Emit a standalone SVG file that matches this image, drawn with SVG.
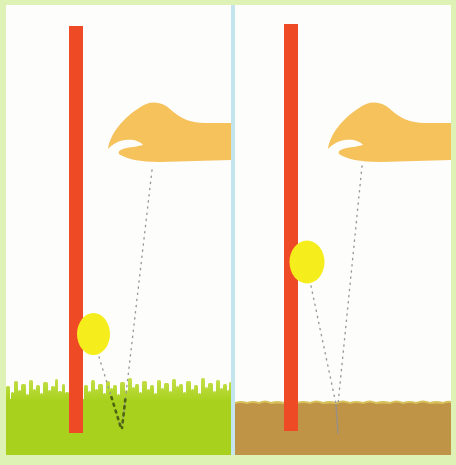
<svg xmlns="http://www.w3.org/2000/svg" width="456" height="465" viewBox="0 0 456 465">
  <style>
    .pole { fill: #ef4a26; }
    .ball { fill: #f5ee1c; }
    .hand { fill: #f6c25c; }
    .blade { fill: url(#blade-fill); }
    .path-dots { fill: none; stroke: #9a9a9a; stroke-width: 1.4; stroke-dasharray: 1.2 5; stroke-linecap: round; }
    .path-dots-dark { fill: none; stroke: #4e6410; stroke-width: 2.6; stroke-dasharray: 2 5; stroke-linecap: round; }
  </style>
  <defs>
    <linearGradient id="blade-fill" gradientUnits="userSpaceOnUse" x1="0" y1="377" x2="0" y2="402">
      <stop offset="0" stop-color="#c6e04c"/>
      <stop offset="1" stop-color="#a7d11c"/>
    </linearGradient>
    <path id="hand-shape" d="M108,149 C110,134 123,118 139,108 C148,101 160,100 170,109 C180,118 190,123 205,123 L232,123 L232,160 L160,162 C140,162 126,159 119,154 C117,150 124,148 134,147 L143,145 C140,141 133,139 125,140 C117,141 112,145 108,149 Z"/>
    <clipPath id="grass-clip"><rect x="6" y="396" width="226" height="59"/></clipPath>
    <clipPath id="left-clip"><rect x="6" y="5" width="225" height="450"/></clipPath>
    <clipPath id="right-clip"><rect x="235" y="5" width="216" height="450"/></clipPath>
  </defs>

  <!-- frame and panels -->
  <rect x="0" y="0" width="456" height="465" fill="#ddf2b4"/>
  <rect id="panel-left" x="6" y="5" width="225" height="450" fill="#fdfdfc"/>
  <rect id="panel-right" x="235" y="5" width="216" height="450" fill="#fdfdfc"/>
  <rect id="divider" x="231" y="5" width="4" height="450" fill="#c4e4ee"/>

  <!-- left scene: grass blades over a solid base -->
  <g id="grass" clip-path="url(#left-clip)">
    <rect x="6" y="399" width="226" height="56" fill="#a7d11c"/>
    <g class="blades">
      <rect class="blade" x="6" y="386" width="4" height="20" rx="1.5"/>
      <rect class="blade" x="11" y="392" width="3" height="14" rx="1.5"/>
      <rect class="blade" x="14" y="381" width="4" height="25" rx="1.5"/>
      <rect class="blade" x="18" y="390" width="3" height="16" rx="1.5"/>
      <rect class="blade" x="21" y="384" width="5" height="22" rx="1.5"/>
      <rect class="blade" x="26" y="394" width="3" height="12" rx="1.5"/>
      <rect class="blade" x="29" y="380" width="4" height="26" rx="1.5"/>
      <rect class="blade" x="33" y="389" width="3" height="17" rx="1.5"/>
      <rect class="blade" x="36" y="385" width="4" height="21" rx="1.5"/>
      <rect class="blade" x="40" y="393" width="3" height="13" rx="1.5"/>
      <rect class="blade" x="43" y="382" width="5" height="24" rx="1.5"/>
      <rect class="blade" x="48" y="390" width="3" height="16" rx="1.5"/>
      <rect class="blade" x="51" y="386" width="4" height="20" rx="1.5"/>
      <rect class="blade" x="55" y="379" width="3" height="27" rx="1.5"/>
      <rect class="blade" x="58" y="391" width="4" height="15" rx="1.5"/>
      <rect class="blade" x="62" y="384" width="3" height="22" rx="1.5"/>
      <rect class="blade" x="65" y="392" width="4" height="14" rx="1.5"/>
      <rect class="blade" x="84" y="385" width="4" height="21" rx="1.5"/>
      <rect class="blade" x="88" y="391" width="3" height="15" rx="1.5"/>
      <rect class="blade" x="91" y="380" width="4" height="26" rx="1.5"/>
      <rect class="blade" x="95" y="389" width="3" height="17" rx="1.5"/>
      <rect class="blade" x="98" y="384" width="5" height="22" rx="1.5"/>
      <rect class="blade" x="103" y="393" width="3" height="13" rx="1.5"/>
      <rect class="blade" x="106" y="381" width="4" height="25" rx="1.5"/>
      <rect class="blade" x="110" y="388" width="3" height="18" rx="1.5"/>
      <rect class="blade" x="113" y="385" width="4" height="21" rx="1.5"/>
      <rect class="blade" x="117" y="394" width="3" height="12" rx="1.5"/>
      <rect class="blade" x="120" y="382" width="5" height="24" rx="1.5"/>
      <rect class="blade" x="125" y="390" width="3" height="16" rx="1.5"/>
      <rect class="blade" x="128" y="378" width="4" height="28" rx="1.5"/>
      <rect class="blade" x="132" y="387" width="3" height="19" rx="1.5"/>
      <rect class="blade" x="135" y="384" width="4" height="22" rx="1.5"/>
      <rect class="blade" x="139" y="392" width="3" height="14" rx="1.5"/>
      <rect class="blade" x="142" y="381" width="5" height="25" rx="1.5"/>
      <rect class="blade" x="147" y="389" width="3" height="17" rx="1.5"/>
      <rect class="blade" x="150" y="385" width="4" height="21" rx="1.5"/>
      <rect class="blade" x="154" y="393" width="3" height="13" rx="1.5"/>
      <rect class="blade" x="157" y="380" width="4" height="26" rx="1.5"/>
      <rect class="blade" x="161" y="388" width="3" height="18" rx="1.5"/>
      <rect class="blade" x="164" y="383" width="5" height="23" rx="1.5"/>
      <rect class="blade" x="169" y="391" width="3" height="15" rx="1.5"/>
      <rect class="blade" x="172" y="379" width="4" height="27" rx="1.5"/>
      <rect class="blade" x="176" y="386" width="3" height="20" rx="1.5"/>
      <rect class="blade" x="179" y="384" width="4" height="22" rx="1.5"/>
      <rect class="blade" x="183" y="392" width="3" height="14" rx="1.5"/>
      <rect class="blade" x="186" y="381" width="5" height="25" rx="1.5"/>
      <rect class="blade" x="191" y="389" width="3" height="17" rx="1.5"/>
      <rect class="blade" x="194" y="385" width="4" height="21" rx="1.5"/>
      <rect class="blade" x="198" y="393" width="3" height="13" rx="1.5"/>
      <rect class="blade" x="201" y="378" width="4" height="28" rx="1.5"/>
      <rect class="blade" x="205" y="387" width="3" height="19" rx="1.5"/>
      <rect class="blade" x="208" y="383" width="5" height="23" rx="1.5"/>
      <rect class="blade" x="213" y="391" width="3" height="15" rx="1.5"/>
      <rect class="blade" x="216" y="380" width="4" height="26" rx="1.5"/>
      <rect class="blade" x="220" y="388" width="3" height="18" rx="1.5"/>
      <rect class="blade" x="223" y="384" width="4" height="22" rx="1.5"/>
      <rect class="blade" x="227" y="390" width="3" height="16" rx="1.5"/>
      <rect class="blade" x="229" y="382" width="3" height="24" rx="1.5"/>
    </g>
  </g>

  <!-- right scene: soil with a pale crumbly top edge -->
  <g id="soil">
    <path fill="#d7c25a" d="M235,455 L235,402 Q241,400 247,402 Q253,400 259,402 Q265,399 271,402 Q277,400 284,402 Q290,399 297,402 Q303,400 310,402 Q316,399 323,402 Q330,400 336,402 Q343,399 350,402 Q356,400 363,402 Q370,399 376,402 Q383,400 390,402 Q396,399 403,402 Q410,400 416,402 Q423,399 430,402 Q436,400 443,402 Q448,400 451,401 L451,455 Z"/>
    <path fill="#bf9447" d="M235,455 L235,404 Q241,402 247,404 Q253,402 259,404 Q265,401 271,404 Q277,403 284,404 Q290,401 297,404 Q303,402 310,404 Q316,401 323,404 Q330,403 336,404 Q343,401 350,404 Q356,402 363,404 Q370,401 376,404 Q383,403 390,404 Q396,401 403,404 Q410,402 416,404 Q423,401 430,404 Q436,403 443,404 Q448,402 451,403 L451,455 Z"/>
  </g>

  <!-- poles -->
  <g id="pole-left"><rect class="pole" x="69" y="26" width="14" height="407"/></g>
  <g id="pole-right"><rect class="pole" x="284" y="24" width="14" height="407"/></g>

  <!-- falling paths -->
  <g id="connectors">
    <line class="path-dots" x1="152" y1="170" x2="122" y2="428"/>
    <line class="path-dots" x1="99" y1="357" x2="121" y2="428"/>
    <g clip-path="url(#grass-clip)">
      <line class="path-dots-dark" x1="152" y1="170" x2="122" y2="428"/>
      <line class="path-dots-dark" x1="99" y1="357" x2="121" y2="428"/>
    </g>
    <line class="path-dots" x1="362" y1="166" x2="338" y2="404"/>
    <line class="path-dots" x1="311" y1="286" x2="336" y2="404"/>
    <line x1="336" y1="404" x2="338" y2="434" stroke="#9a8f86" stroke-width="1.4"/>
  </g>

  <!-- balls -->
  <g id="ball-left"><ellipse class="ball" cx="93.5" cy="334" rx="16.5" ry="21"/></g>
  <g id="ball-right"><ellipse class="ball" cx="307" cy="262" rx="17.5" ry="21.5"/></g>

  <!-- hands -->
  <g id="hand-left" clip-path="url(#left-clip)"><use href="#hand-shape" class="hand"/></g>
  <g id="hand-right" clip-path="url(#right-clip)"><use href="#hand-shape" class="hand" transform="translate(220 0)"/></g>
</svg>
